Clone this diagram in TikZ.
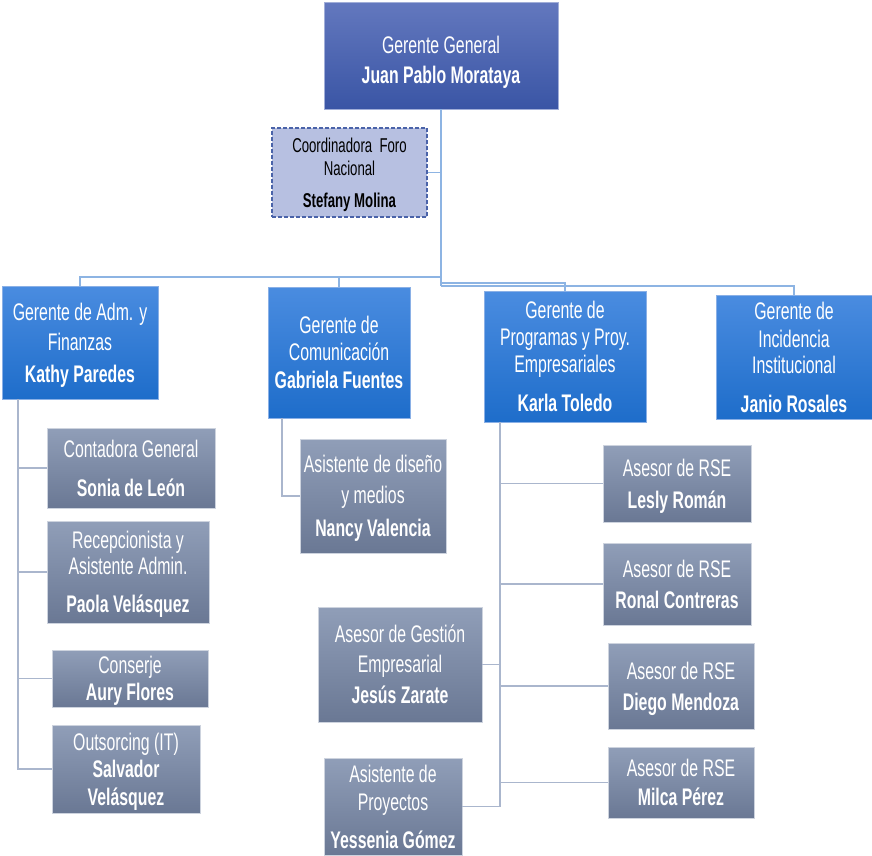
\documentclass[tikz,border=0pt]{standalone}
\usepackage{fontspec}
\setmainfont{Liberation Sans}[FakeStretch=0.66]
\definecolor{ggtop}{HTML}{6378BE}
\definecolor{ggbot}{HTML}{3A55A5}
\definecolor{bltop}{HTML}{4A8CE0}
\definecolor{blbot}{HTML}{1E6DCA}
\definecolor{bledge}{HTML}{8AB0E6}
\definecolor{grtop}{HTML}{909EB8}
\definecolor{grbot}{HTML}{6A7894}
\definecolor{gredge}{HTML}{CDD3DE}
\definecolor{cofill}{HTML}{B7C0E1}
\definecolor{coedge}{HTML}{4A63A9}
\definecolor{topln}{HTML}{8DB4E3}
\definecolor{subln}{HTML}{AAB6CD}
\newcommand{\pname}[1]{\raisebox{0pt}[\height][0pt]{\textbf{#1}}}
\tikzset{
  box/.style={rectangle, inner sep=0pt, align=center, text=white,
    font=\fontsize{24}{28}\selectfont},
  ggbox/.style={box, top color=ggtop, bottom color=ggbot, draw=ggtop!60!white, line width=0.8pt},
  mgr/.style={box, top color=bltop, bottom color=blbot, draw=bledge, line width=0.8pt},
  staff/.style={box, top color=grtop, bottom color=grbot, draw=gredge, line width=0.8pt},
  cobox/.style={rectangle, inner sep=0pt, align=center, text=black, fill=cofill,
    draw=coedge, line width=1.5pt, dash pattern=on 4pt off 2pt,
    font=\fontsize{20}{23}\selectfont},
  topline/.style={draw=topln, line width=1.3pt},
  subline/.style={draw=subln, line width=1.3pt}
}
\begin{document}
\begin{tikzpicture}[x=1pt,y=1pt]
\useasboundingbox (0,0) rectangle (872,-855);
% top
\node[ggbox, minimum width=234pt, minimum height=107pt] (gg) at (441,-55.5)
  {\rule{0pt}{25pt}Gerente General\\[2pt]\pname{Juan Pablo Morataya}};
\node[cobox, minimum width=155pt, minimum height=89pt] (coord) at (349.5,-172.5)
  {Coordinadora\ \ Foro\\Nacional\\[9pt]\pname{Stefany Molina}};
% managers
\node[mgr, minimum width=156pt, minimum height=113pt] (kathy) at (80,-342.5)
  {Gerente de Adm. y\\[2pt]Finanzas\\[4pt]\pname{Kathy Paredes}};
\node[mgr, minimum width=142pt, minimum height=131pt] (gabriela) at (339,-352.5)
  {Gerente de\\[-1pt]Comunicación\\\pname{Gabriela Fuentes}};
\node[mgr, minimum width=162pt, minimum height=131pt] (karla) at (565,-356.5)
  {Gerente de\\[-1pt]Programas y Proy.\\[-1pt]Empresariales\\[11pt]\pname{Karla Toledo}};
\node[mgr, minimum width=156pt, minimum height=124pt] (janio) at (794,-357)
  {Gerente de\\Incidencia\\[-2pt]Institucional\\[11pt]\pname{Janio Rosales}};
% staff of Kathy
\node[staff, minimum width=168pt, minimum height=80pt] (conta) at (131,-468)
  {Contadora General\\[11pt]\pname{Sonia de León}};
\node[staff, minimum width=162pt, minimum height=102pt] (recep) at (128,-572)
  {Recepcionista y\\[-2pt]Asistente Admin.\\[10pt]\pname{Paola Velásquez}};
\node[staff, minimum width=156pt, minimum height=57pt] (conserje) at (130,-678.5)
  {Conserje\\[-1pt]\pname{Aury Flores}};
\node[staff, minimum width=148pt, minimum height=88pt] (outs) at (126,-769)
  {Outsorcing (IT)\\[-1pt]\textbf{Salvador}\\\pname{Velásquez}};
% staff of Gabriela
\node[staff, minimum width=146pt, minimum height=114pt] (nancy) at (373,-496)
  {Asistente de diseño\\[3pt]y medios\\[5pt]\pname{Nancy Valencia}};
% staff of Karla
\node[staff, minimum width=164pt, minimum height=115pt] (jesus) at (400,-664.5)
  {Asesor de Gestión\\[2pt]Empresarial\\[3pt]\pname{Jesús Zarate}};
\node[staff, minimum width=138pt, minimum height=97pt] (yess) at (393,-806.5)
  {Asistente de\\Proyectos\\[10pt]\pname{Yessenia Gómez}};
\node[staff, minimum width=148pt, minimum height=77pt] (lesly) at (677,-483.5)
  {Asesor de RSE\\[4pt]\pname{Lesly Román}};
\node[staff, minimum width=148pt, minimum height=82pt] (ronal) at (677,-584)
  {Asesor de RSE\\[3pt]\pname{Ronal Contreras}};
\node[staff, minimum width=146pt, minimum height=86pt] (diego) at (681,-686)
  {Asesor de RSE\\[3pt]\pname{Diego Mendoza}};
\node[staff, minimum width=146pt, minimum height=71pt] (milca) at (681,-782.5)
  {Asesor de RSE\\[1pt]\pname{Milca Pérez}};
% connector helpers
\coordinate (hL) at (0,-277);
\coordinate (hK) at (0,-283);
\coordinate (hJ) at (0,-286);
\coordinate (vK) at (18,0);
\coordinate (vG) at (282,0);
\coordinate (vP) at (500,0);
% top-level connectors
\draw[topline] (gg.south) -- (gg.south |- hJ);
\draw[topline] (coord.east) -- (coord.east -| gg.south);
\draw[topline] (gg.south |- hL) -| (kathy.north);
\draw[topline] (gg.south |- hL) -| (gabriela.north);
\draw[topline] (gg.south |- hK) -| (karla.north);
\draw[topline] (gg.south |- hJ) -| (janio.north);
% Kathy's staff
\draw[subline] (kathy.south -| vK) |- (outs.west);
\draw[subline] (kathy.south -| vK) |- (conta.west);
\draw[subline] (kathy.south -| vK) |- (recep.west);
\draw[subline] (kathy.south -| vK) |- (conserje.west);
% Gabriela's staff
\draw[subline] (gabriela.south -| vG) |- (nancy.west);
% Karla's staff
\draw[subline] (karla.south -| vP) |- (yess.east);
\draw[subline] (karla.south -| vP) |- (jesus.east);
\draw[subline] (karla.south -| vP) |- (lesly.west);
\draw[subline] (karla.south -| vP) |- (ronal.west);
\draw[subline] (karla.south -| vP) |- (diego.west);
\draw[subline] (karla.south -| vP) |- (milca.west);
\end{tikzpicture}
\end{document}
